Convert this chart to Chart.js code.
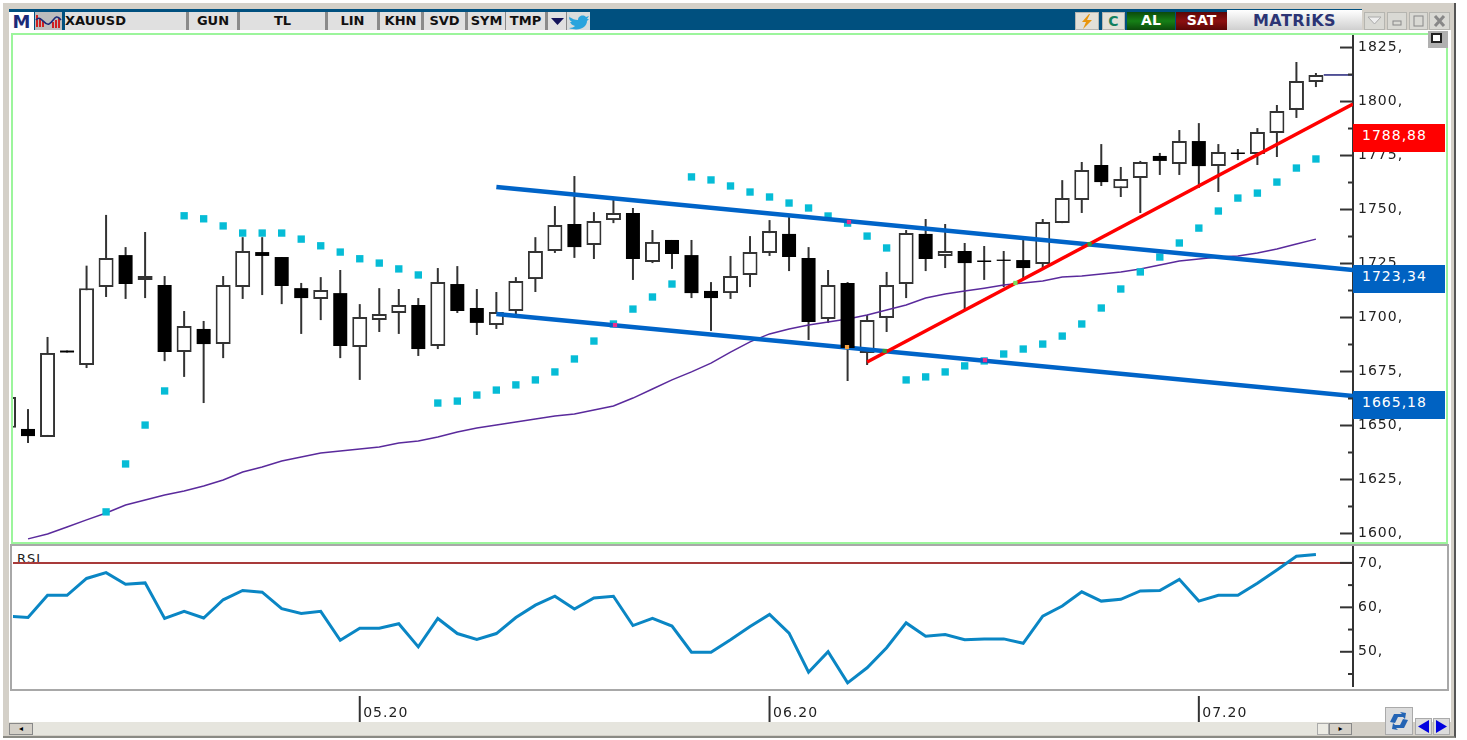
<!DOCTYPE html>
<html>
<head>
<meta charset="utf-8">
<title>XAUUSD</title>
<script src="https://cdn.jsdelivr.net/npm/chart.js@4/dist/chart.umd.min.js"></script>
<style>
html,body{margin:0;padding:0;background:#fff;overflow:hidden;}
body{width:1467px;height:740px;position:relative;font-family:"DejaVu Sans",sans-serif;}
.box{position:absolute;box-sizing:border-box;}
canvas{position:absolute;}
.btn{position:absolute;box-sizing:border-box;top:12px;height:18px;background:#e0e0e0;
  border-left:2px solid #8a8a8a;border-right:1px solid #8a8a8a;
  font:bold 13px/17px "DejaVu Sans",sans-serif;color:#111;text-align:center;}
.win{position:absolute;box-sizing:border-box;top:12px;height:18px;background:#d9d9d4;border:1px solid #b5b5b0;}
.price{position:absolute;left:1353px;width:92px;height:28px;color:#fff;
  font:14px/22px "DejaVu Sans",sans-serif;letter-spacing:1px;padding-left:9px;box-sizing:border-box;}
svg{position:absolute;display:block;}
</style>
</head>
<body>

<!-- window frame -->
<div class="box" style="left:3px;top:3px;width:1453px;height:735px;background:#d4d0c8;border-right:2px solid #555;border-bottom:2px solid #8a8a84;"></div>
<div class="box" style="left:9px;top:9px;width:1442px;height:21px;background:#00507f;"></div>

<!-- toolbar -->
<div class="btn" style="left:9px;width:25px;top:12px;background:#fff;border:0;color:#1c2a78;font-size:18px;line-height:19px;">M</div>
<div class="btn" style="left:35px;width:27px;background:#bdbdbd;border:0;">
  <svg width="27" height="18" viewBox="0 0 27 18">
    <path d="M2 3v12M5 6v9M8 9v6M18 10v6M21 8v8M24 6v10" stroke="#d02020" stroke-width="2"/>
    <path d="M1 8C6 2 9 14 14 12S20 0 26 8" stroke="#1c2a78" stroke-width="1.6" fill="none"/>
  </svg>
</div>
<div class="btn" style="left:65px;width:122px;border-left:0;text-align:left;">XAUUSD</div>
<div class="btn" style="left:187px;width:51px;">GUN</div>
<div class="btn" style="left:238px;width:88px;">TL</div>
<div class="btn" style="left:326px;width:52px;">LIN</div>
<div class="btn" style="left:378px;width:44px;">KHN</div>
<div class="btn" style="left:422px;width:44px;">SVD</div>
<div class="btn" style="left:466px;width:40px;">SYM</div>
<div class="btn" style="left:506px;width:40px;border-left:0;">TMP</div>
<div class="btn" style="left:546px;width:21px;">
  <svg width="19" height="18"><path d="M3 6h13l-6.5 7z" fill="#14145a"/></svg>
</div>
<div class="btn" style="left:567px;width:23px;border-left:0;border-right:0;background:#d8dcdc;">
  <svg width="23" height="18" viewBox="0 0 23 18"><path d="M2 4c3 3 6 4 9 4 0-4 5-6 8-3l3-1-2 3 2 0-2 2c0 6-8 11-18 7 3 0 5-1 6-2-3-1-4-2-5-4h2c-2-1-3-3-3-5l2 1c-2-2-2-3-2-2z" fill="#2aa4dd"/></svg>
</div>

<div class="win" style="left:1075px;width:24px;background:#e2e0d8;">
  <svg width="22" height="16"><path d="M13 1L6 9h4l-3 7 9-9h-5l3-6z" fill="#e8960c"/></svg>
</div>
<div class="win" style="left:1102px;width:23px;background:#e2e0d8;font:bold 14px/16px 'DejaVu Sans';color:#128060;text-align:center;">C</div>
<div class="box" style="left:1127px;top:12px;width:48px;height:18px;background:linear-gradient(#0c4a0c,#168016,#0c4a0c);color:#fff;font:bold 14px/17px 'DejaVu Sans';text-align:center;">AL</div>
<div class="box" style="left:1176px;top:12px;width:51px;height:18px;background:linear-gradient(#5a0606,#8c1010,#5a0606);color:#fff;font:bold 14px/17px 'DejaVu Sans';text-align:center;">SAT</div>
<div class="box" style="left:1227px;top:10px;width:135px;height:20px;background:linear-gradient(#fff,#cfcfcf);color:#2c3474;font:bold 16px/21px 'DejaVu Sans';text-align:center;letter-spacing:.5px;">MATRiKS</div>
<div class="box" style="left:1362px;top:9px;width:89px;height:21px;background:#d4d0c8;"></div>
<div class="win" style="left:1364px;width:21px;"><svg width="19" height="16"><path d="M3 4h13l-6.500 7z" fill="#eee" stroke="#aaa"/></svg></div>
<div class="win" style="left:1387px;width:20px;"><svg width="18" height="16"><rect x="5" y="8" width="8" height="4" fill="none" stroke="#888"/></svg></div>
<div class="win" style="left:1409px;width:19px;"><svg width="17" height="16"><rect x="4" y="3" width="9" height="10" fill="none" stroke="#888"/></svg></div>
<div class="win" style="left:1429px;width:21px;"><svg width="19" height="16"><path d="M5 3l9 10M14 3L5 13" stroke="#888" stroke-width="3"/></svg></div>

<!-- chart panels -->
<div class="box" style="left:9px;top:30px;width:1442px;height:692px;background:#fff;"></div>
<div class="box" style="left:11px;top:33px;width:1437px;height:511px;border:2px solid #9cf59c;"></div>
<div class="box" style="left:10px;top:544px;width:1439px;height:147px;border:2px solid #a8a8a8;background:#fff;"></div>
<div class="box" style="left:1428px;top:31px;width:20px;height:17px;background:#b0b0b0;">
  <div class="box" style="left:3px;top:2px;width:11px;height:10px;background:#fff;border:2px solid #222;"></div>
</div>
<div class="box" style="left:17px;top:551px;height:12px;width:40px;overflow:hidden;font:13px/15px 'DejaVu Sans';color:#222;letter-spacing:1px;">RSI</div>

<canvas id="priceChart" width="1434" height="507" style="left:13px;top:35px;"></canvas>
<canvas id="rsiChart" width="1434" height="176" style="left:13px;top:546px;"></canvas>

<div class="price" style="top:124px;background:#ff0000;">1788,88</div>
<div class="price" style="top:265px;background:#0062c2;">1723,34</div>
<div class="price" style="top:391px;background:#0062c2;">1665,18</div>

<!-- scrollbar and bottom buttons -->
<div class="box" style="left:9px;top:722px;width:1343px;height:13px;background:#e6e5de;"></div>
<div class="box" style="left:9px;top:723px;width:24px;height:12px;background:#d4d0c8;border:1px solid #888;font:8px/10px 'DejaVu Sans';text-align:center;">◂</div>
<div class="box" style="left:1317px;top:723px;width:12px;height:12px;background:#ecebe4;border:1px solid #aaa;"></div>
<div class="box" style="left:1329px;top:723px;width:23px;height:12px;background:#d4d0c8;border:1px solid #888;font:8px/10px 'DejaVu Sans';text-align:center;">▸</div>
<div class="box" style="left:1385px;top:707px;width:28px;height:28px;background:#dcdcdc;border:1px solid #aaa;">
  <svg width="26" height="26" viewBox="0 0 26 26"><path d="M4 14l4-8h8l-2-2 6 1-1 6-2-2h-5l-3 6z M22 12l-4 8H10l2 2-6-1 1-6 2 2h5l3-6z" fill="#2464b4"/></svg>
</div>
<div class="box" style="left:1415px;top:718px;width:17px;height:17px;background:#dcdcdc;border:1px solid #aaa;">
  <svg width="15" height="15"><path d="M13 1v13L2 7.500z" fill="#0000e0"/></svg>
</div>
<div class="box" style="left:1433px;top:718px;width:17px;height:17px;background:#dcdcdc;border:1px solid #aaa;">
  <svg width="15" height="15"><path d="M2 1v13l11-6.500z" fill="#0000e0"/></svg>
</div>

<script>
// candles, one row of numbers per field
const opens = [1648.9,1648.4,1644.7,1684.7,1678.0,1714.1,1728.9,1717.4,1715.0,1684.0,1694.7,1687.7,1714.1,1730.3,1728.0,1713.6,1708.6,1711.3,1686.3,1698.8,1702.1,1705.8,1686.8,1715.5,1704.4,1696.5,1703.0,1717.8,1730.8,1743.3,1733.6,1745.1,1748.4,1725.7,1735.9,1728.9,1712.3,1711.3,1719.7,1729.9,1738.7,1727.6,1699.3,1716.0,1683.6,1699.8,1715.5,1738.7,1728.5,1730.8,1726.4,1726.8,1726.6,1724.8,1743.7,1754.4,1770.6,1759.9,1764.6,1774.8,1771.1,1781.7,1770.1,1776.4,1775.7,1785.4,1796.1,1809.0];
const closes = [1663.2,1645.1,1683.6,1683.8,1713.6,1727.6,1715.5,1719.2,1684.0,1696.1,1687.7,1715.0,1730.8,1728.5,1714.6,1709.0,1712.7,1686.8,1700.2,1701.6,1705.8,1685.4,1716.4,1703.0,1697.5,1702.6,1716.9,1730.8,1742.8,1732.6,1744.7,1748.4,1727.1,1735.0,1729.4,1711.3,1709.0,1719.2,1730.3,1740.0,1728.0,1697.9,1715.0,1685.9,1698.8,1715.0,1739.1,1727.1,1730.8,1725.2,1725.7,1726.2,1722.9,1744.2,1755.3,1768.3,1762.7,1764.1,1772.0,1772.5,1781.7,1770.1,1776.6,1775.7,1785.9,1795.6,1809.5,1812.3];
const highs = [1663.2,1657.6,1691.0,1684.7,1724.0,1747.5,1732.6,1739.6,1719.2,1703.0,1698.4,1719.2,1737.2,1737.2,1728.0,1716.0,1718.7,1722.0,1706.2,1713.6,1713.2,1709.0,1722.9,1723.8,1713.2,1711.8,1718.7,1737.2,1751.6,1765.5,1748.8,1754.4,1750.7,1740.5,1735.9,1735.9,1716.4,1728.5,1737.7,1745.1,1746.5,1732.6,1722.0,1716.4,1701.2,1721.1,1740.5,1745.6,1743.3,1734.5,1733.1,1730.8,1737.7,1745.6,1763.6,1772.0,1780.3,1769.7,1772.5,1776.2,1786.8,1790.0,1780.3,1778.0,1787.7,1798.4,1818.3,1813.2];
const lows = [1648.9,1641.9,1644.7,1683.8,1676.6,1709.5,1708.6,1709.0,1679.8,1672.5,1660.4,1681.2,1708.6,1710.4,1706.2,1692.4,1698.8,1681.2,1671.1,1693.3,1692.4,1682.2,1685.4,1702.1,1691.9,1694.7,1700.2,1711.8,1729.9,1727.6,1727.1,1743.7,1717.4,1725.2,1722.5,1709.0,1693.8,1708.6,1714.1,1728.5,1721.5,1689.6,1697.5,1670.6,1678.0,1693.3,1709.0,1721.5,1722.9,1703.5,1717.4,1714.1,1717.4,1722.9,1743.7,1748.4,1760.9,1755.8,1748.4,1766.0,1766.0,1760.0,1758.1,1772.9,1770.6,1774.3,1792.4,1806.7];

// moving average, null where it has not started
const maLine = [null,1597.5,1599.8,1603.0,1606.3,1609.5,1613.2,1615.5,1617.8,1619.7,1622.0,1624.8,1628.5,1630.8,1633.6,1635.4,1637.3,1638.2,1639.1,1640.0,1641.9,1642.8,1644.7,1647.0,1648.8,1650.2,1651.6,1653.0,1654.4,1655.3,1657.2,1659.0,1662.7,1666.9,1671.1,1674.8,1678.9,1684.0,1688.7,1692.4,1694.7,1696.5,1697.9,1699.3,1701.2,1703.5,1705.8,1709.0,1710.9,1712.3,1713.6,1715.0,1716.0,1716.9,1718.7,1719.2,1720.1,1721.1,1722.5,1724.3,1726.2,1727.1,1728.0,1728.5,1729.9,1731.7,1734.0,1736.3];

// parabolic sar dots
const sarDots = [null,null,null,null,null,1610.0,1632.2,1650.2,1666.0,1747.1,1745.7,1742.4,1739.1,1739.1,1739.1,1736.3,1733.2,1730.3,1727.2,1725.2,1722.5,1719.7,1660.4,1661.3,1664.1,1666.4,1668.8,1671.1,1674.8,1680.8,1689.1,1697.0,1703.9,1709.5,1715.5,1765.1,1763.7,1760.9,1758.1,1755.8,1753.0,1750.7,1747.0,1743.7,1737.7,1732.2,1671.1,1672.5,1674.8,1677.6,1679.9,1683.1,1685.4,1687.7,1691.4,1697.0,1704.4,1713.2,1721.1,1728.0,1734.5,1741.4,1749.3,1755.3,1757.6,1762.7,1769.2,1773.4];

const rsiValues = [58.0,57.7,62.7,62.7,66.5,67.8,65.2,65.5,57.5,59.1,57.6,61.7,63.8,63.4,59.7,58.6,59.1,52.6,55.3,55.3,56.3,51.1,57.5,54.1,52.8,54.1,57.7,60.5,62.5,59.6,62.1,62.5,55.9,57.5,55.8,49.9,49.9,52.7,55.7,58.4,54.2,45.4,50.0,43.0,46.4,50.9,56.5,53.5,53.9,52.7,52.9,52.9,51.9,58.0,60.3,63.5,61.4,61.8,63.7,63.8,66.3,61.4,62.7,62.7,65.4,68.4,71.5,71.9];

// hand drawn trend lines, [candle index, price]
const upperChannel = [[25,1760.4],[68.9,1722.0]];
const lowerChannel = [[25,1701.6],[68.9,1663.6]];
const redTrend = [[44,1679.4],[68.9,1798.8]];
const lastPrice = [[67.4,1812.3],[68.9,1812.3]];
const rsiLevel = [[0,70],[68.9,70]];

// little coloured bits where the drawn lines cross each other
const crossX = [42.97,31.08,43.07,50.04,55.4,51.6,44.9];
const crossY = [1686.3,1696.5,1744.2,1680.3,1734.0,1716.0,1684.5];
const crossColors = ['#f5a040','#e8308c','#e8308c','#e8308c','#3a9a3a','#7adf5a','#3a9a3a'];

const priceTicks = [1600,1612.5,1625,1637.5,1650,1662.5,1675,1687.5,1700,1712.5,1725,1737.5,1750,1762.5,1775,1787.5,1800,1812.5,1825];
const rsiTicks = [45,50,55,60,65,70];
const monthTicks = [18,39,61];
const monthLabels = ['05.20','06.20','07.20'];

const FONT = {family:'"DejaVu Sans"', size:14};
const X_MIN = 0.23, X_MAX = 68.9;

function series(values){
    return values.map((v,i) => ({x:i, y:v}));
}
function pairs(list){
    return list.map(p => ({x:p[0], y:p[1]}));
}

let wicks = highs.map((h,i) => ({x:i, y:[lows[i],h]}));
let whiteBodies = [];
let blackBodies = [];
opens.forEach((o,i) => {
    let bar = {x:i, y:[o,closes[i]]};
    if(closes[i] >= o){
        whiteBodies.push(bar);
    }
    else{
        blackBodies.push(bar);
    }
});

function lineSet(data, color, width, order){
    return {type:'line', data:data, borderColor:color, borderWidth:width, pointRadius:0, tension:0, order:order};
}

// no room kept for tick labels, the panels have to line up exactly
function noPadding(s){
    s.paddingTop = 0;
    s.paddingBottom = 0;
    s.paddingLeft = 0;
    s.paddingRight = 0;
}

// ticks point into the plot on this chart, long on labelled values
const axisMarks = {
    id:'axisMarks',
    beforeDraw(chart){
        chart.ctx.letterSpacing = '1px';
    },
    afterDraw(chart){
        let ctx = chart.ctx;
        let y = chart.scales.y;
        ctx.save();
        ctx.strokeStyle = '#333';
        ctx.lineWidth = 2;
        y.ticks.forEach(t => {
            let py = y.getPixelForValue(t.value);
            let len = t.label ? 13 : 5;
            ctx.beginPath();
            ctx.moveTo(y.left, py);
            ctx.lineTo(y.left-len, py);
            ctx.stroke();
        });
        if(chart.canvas.id === 'rsiChart'){
            let x = chart.scales.x;
            x.ticks.forEach(t => {
                let px = x.getPixelForValue(t.value);
                ctx.beginPath();
                ctx.moveTo(px, x.top+10);
                ctx.lineTo(px, x.top+36);
                ctx.stroke();
            });
        }
        ctx.restore();
    }
};

new Chart(document.getElementById('priceChart'), {
    type:'bar',
    data:{
        datasets:[
            {data:wicks, backgroundColor:'#333', barThickness:2, borderWidth:0, inflateAmount:0, grouped:false, order:7},
            {data:whiteBodies, backgroundColor:'#fff', borderColor:'#333', borderWidth:2, borderSkipped:false, barThickness:15, inflateAmount:0, grouped:false, order:6},
            lineSet(series(maLine), '#5a2a9c', 1.5, 5),
            {type:'line', data:series(sarDots), showLine:false, pointStyle:'rect', pointRadius:5.2, pointBackgroundColor:'#06bcd6', pointBorderWidth:0, order:4},
            lineSet(pairs(upperChannel), '#0064c8', 4.5, 3),
            lineSet(pairs(lowerChannel), '#0064c8', 4.5, 3),
            lineSet(pairs(redTrend), '#ff0000', 3.5, 2),
            lineSet(pairs(lastPrice), '#22227a', 1.5, 2),
            {data:blackBodies, backgroundColor:'#000', barThickness:14, borderWidth:0, inflateAmount:0, grouped:false, order:1},
            {type:'line', data:crossX.map((x,i) => ({x:x, y:crossY[i]})), showLine:false, pointStyle:'rect', pointRadius:3, pointBackgroundColor:crossColors, pointBorderWidth:0, order:0}
        ]
    },
    options:{
        responsive:false,
        animation:false,
        layout:{padding:0, autoPadding:false},
        plugins:{legend:{display:false}, tooltip:{enabled:false}},
        scales:{
            x:{type:'linear', display:false, offset:false, min:X_MIN, max:X_MAX},
            y:{
                position:'right',
                min:1596.06,
                max:1830.8,
                afterBuildTicks: s => { s.ticks = priceTicks.map(v => ({value:v})); },
                afterFit: s => { s.width = 94; noPadding(s); },
                grid:{display:false, drawTicks:false},
                border:{display:true, color:'#333', width:2},
                ticks:{
                    autoSkip:false,
                    padding:5,
                    color:'#222',
                    font:FONT,
                    callback: v => (v % 25 === 0 ? v + ',' : '')
                }
            }
        }
    },
    plugins:[axisMarks]
});

new Chart(document.getElementById('rsiChart'), {
    type:'line',
    data:{
        datasets:[
            lineSet(pairs(rsiLevel), '#a83a3a', 2, 2),
            lineSet(series(rsiValues), '#0a86c4', 3, 1)
        ]
    },
    options:{
        responsive:false,
        animation:false,
        layout:{padding:0, autoPadding:false},
        plugins:{legend:{display:false}, tooltip:{enabled:false}},
        scales:{
            x:{
                type:'linear',
                min:X_MIN,
                max:X_MAX,
                afterBuildTicks: s => { s.ticks = monthTicks.map(v => ({value:v})); },
                afterFit: s => { s.height = 36; noPadding(s); },
                grid:{display:false, drawTicks:false},
                border:{display:false},
                ticks:{
                    autoSkip:false,
                    maxRotation:0,
                    padding:19,
                    labelOffset:26,
                    color:'#222',
                    font:FONT,
                    callback: v => monthLabels[monthTicks.indexOf(v)]
                }
            },
            y:{
                position:'right',
                min:42.3,
                max:73.8,
                afterBuildTicks: s => { s.ticks = rsiTicks.map(v => ({value:v})); },
                afterFit: s => { s.width = 94; noPadding(s); },
                grid:{display:false, drawTicks:false},
                border:{display:true, color:'#333', width:2},
                ticks:{
                    autoSkip:false,
                    padding:5,
                    color:'#222',
                    font:FONT,
                    callback: v => (v % 10 === 0 ? v + ',' : '')
                }
            }
        }
    },
    plugins:[axisMarks]
});
</script>
</body>
</html>
